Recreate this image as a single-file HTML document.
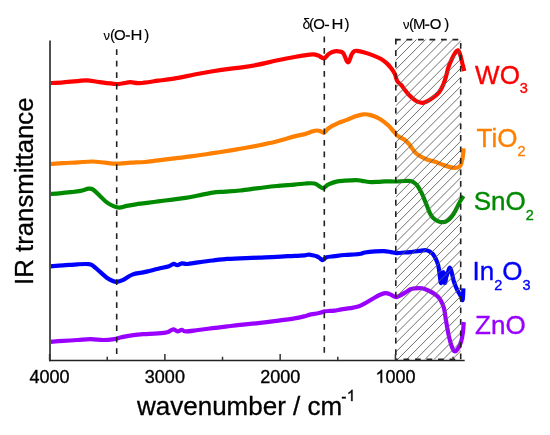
<!DOCTYPE html>
<html><head><meta charset="utf-8"><style>
html,body{margin:0;padding:0;background:#fff;width:550px;height:435px;overflow:hidden}
svg{display:block;will-change:transform}
text{font-family:"Liberation Sans",sans-serif;}
</style></head><body>
<svg width="550" height="435" viewBox="0 0 550 435">
<defs><clipPath id="bx"><rect x="395.80" y="39.60" width="64.90" height="319.70"/></clipPath></defs>
<rect width="550" height="435" fill="#fff"/>
<clipPath id="cv"><rect x="50.6" y="0" width="450" height="435"/></clipPath>
<g clip-path="url(#cv)">
<path d="M50.00,83.10 C52.20,82.97 58.58,82.63 63.20,82.30 C67.82,81.97 73.77,81.43 77.70,81.10 C81.63,80.77 83.17,80.13 86.80,80.30 C90.43,80.47 94.65,81.48 99.50,82.10 C104.35,82.72 112.15,83.77 115.90,84.00 C119.65,84.23 119.57,83.80 122.00,83.50 C124.43,83.20 127.58,82.27 130.50,82.20 C133.42,82.13 134.88,83.35 139.50,83.10 C144.12,82.85 152.05,81.53 158.20,80.70 C164.35,79.87 170.35,79.13 176.40,78.10 C182.45,77.07 188.45,75.63 194.50,74.50 C200.55,73.37 206.63,72.28 212.70,71.30 C218.77,70.32 226.35,69.22 230.90,68.60 C235.45,67.98 235.45,68.27 240.00,67.60 C244.55,66.93 252.13,65.78 258.20,64.60 C264.27,63.42 270.35,61.77 276.40,60.50 C282.45,59.23 288.45,58.02 294.50,57.00 C300.55,55.98 308.75,54.63 312.70,54.40 C316.65,54.17 316.32,54.95 318.20,55.60 C320.08,56.25 322.25,58.57 324.00,58.30 C325.75,58.03 326.95,55.15 328.70,54.00 C330.45,52.85 332.55,51.80 334.50,51.40 C336.45,51.00 338.95,51.30 340.40,51.60 C341.85,51.90 342.38,52.20 343.20,53.20 C344.02,54.20 344.67,56.23 345.30,57.60 C345.93,58.97 346.47,60.63 347.00,61.40 C347.53,62.17 348.00,62.60 348.50,62.20 C349.00,61.80 349.48,60.27 350.00,59.00 C350.52,57.73 350.90,55.90 351.60,54.60 C352.30,53.30 353.30,51.83 354.20,51.20 C355.10,50.57 355.43,50.63 357.00,50.80 C358.57,50.97 361.03,51.48 363.60,52.20 C366.17,52.92 369.48,53.97 372.40,55.10 C375.32,56.23 378.68,57.62 381.10,59.00 C383.52,60.38 385.25,61.90 386.90,63.40 C388.55,64.90 389.68,66.27 391.00,68.00 C392.32,69.73 393.77,71.63 394.80,73.80 C395.83,75.97 396.12,79.12 397.20,81.00 C398.28,82.88 400.08,83.68 401.30,85.10 C402.52,86.52 403.17,87.80 404.50,89.50 C405.83,91.20 407.42,93.42 409.30,95.30 C411.18,97.18 413.65,99.55 415.80,100.80 C417.95,102.05 420.50,102.63 422.20,102.80 C423.90,102.97 424.38,102.53 426.00,101.80 C427.62,101.07 429.77,99.93 431.90,98.40 C434.03,96.87 436.92,94.85 438.80,92.60 C440.68,90.35 442.00,87.60 443.20,84.90 C444.40,82.20 445.13,79.33 446.00,76.40 C446.87,73.47 447.42,70.23 448.40,67.30 C449.38,64.37 450.75,61.25 451.90,58.80 C453.05,56.35 454.30,54.02 455.30,52.60 C456.30,51.18 457.08,49.95 457.90,50.30 C458.72,50.65 459.48,52.60 460.20,54.70 C460.92,56.80 461.52,60.18 462.20,62.90 C462.88,65.62 463.95,69.65 464.30,71.00" fill="none" stroke="#ff0000" stroke-width="4.2" stroke-linejoin="round" stroke-linecap="butt"/>
<path d="M50.00,164.00 C52.20,163.85 58.58,163.37 63.20,163.10 C67.82,162.83 72.85,162.67 77.70,162.40 C82.55,162.13 87.75,161.45 92.30,161.50 C96.85,161.55 101.07,162.35 105.00,162.70 C108.93,163.05 111.65,163.60 115.90,163.60 C120.15,163.60 125.65,162.97 130.50,162.70 C135.35,162.43 140.38,162.40 145.00,162.00 C149.62,161.60 152.97,160.93 158.20,160.30 C163.43,159.67 170.35,158.93 176.40,158.20 C182.45,157.47 188.45,156.73 194.50,155.90 C200.55,155.07 206.63,154.12 212.70,153.20 C218.77,152.28 226.35,151.13 230.90,150.40 C235.45,149.67 235.45,149.62 240.00,148.80 C244.55,147.98 252.13,146.72 258.20,145.50 C264.27,144.28 270.35,143.02 276.40,141.50 C282.45,139.98 289.65,137.67 294.50,136.40 C299.35,135.13 302.58,134.70 305.50,133.90 C308.42,133.10 310.08,132.17 312.00,131.60 C313.92,131.03 315.58,130.55 317.00,130.50 C318.42,130.45 319.37,130.92 320.50,131.30 C321.63,131.68 322.88,132.85 323.80,132.80 C324.72,132.75 325.22,131.75 326.00,131.00 C326.78,130.25 327.08,129.32 328.50,128.30 C329.92,127.28 332.58,125.90 334.50,124.90 C336.42,123.90 337.83,123.18 340.00,122.30 C342.17,121.42 344.80,120.63 347.50,119.60 C350.20,118.57 353.53,116.98 356.20,116.10 C358.87,115.22 361.08,114.47 363.50,114.30 C365.92,114.13 368.03,114.37 370.70,115.10 C373.37,115.83 376.58,117.00 379.50,118.70 C382.42,120.40 385.78,123.10 388.20,125.30 C390.62,127.50 392.30,130.05 394.00,131.90 C395.70,133.75 396.70,135.13 398.40,136.40 C400.10,137.67 402.43,138.23 404.20,139.50 C405.97,140.77 407.87,142.77 409.00,144.00 C410.13,145.23 409.97,145.50 411.00,146.90 C412.03,148.30 413.58,150.80 415.20,152.40 C416.82,154.00 418.63,155.28 420.70,156.50 C422.77,157.72 425.08,158.78 427.60,159.70 C430.12,160.62 433.05,161.08 435.80,162.00 C438.55,162.92 441.33,164.27 444.10,165.20 C446.87,166.13 450.15,167.20 452.40,167.60 C454.65,168.00 456.23,167.98 457.60,167.60 C458.97,167.22 459.80,166.73 460.60,165.30 C461.40,163.87 461.95,161.13 462.40,159.00 C462.85,156.87 463.10,154.28 463.30,152.50 C463.50,150.72 463.55,149.00 463.60,148.30" fill="none" stroke="#ff8000" stroke-width="4.2" stroke-linejoin="round" stroke-linecap="butt"/>
<path d="M50.00,194.00 C51.58,193.88 56.08,193.60 59.50,193.30 C62.92,193.00 67.00,192.60 70.50,192.20 C74.00,191.80 77.48,191.48 80.50,190.90 C83.52,190.32 86.48,188.92 88.60,188.70 C90.72,188.48 91.38,188.47 93.20,189.60 C95.02,190.73 97.23,193.37 99.50,195.50 C101.77,197.63 104.37,200.58 106.80,202.40 C109.23,204.22 111.98,205.53 114.10,206.40 C116.22,207.27 117.38,207.68 119.50,207.60 C121.62,207.52 124.07,206.45 126.80,205.90 C129.53,205.35 132.87,204.75 135.90,204.30 C138.93,203.85 141.28,203.68 145.00,203.20 C148.72,202.72 153.58,202.00 158.20,201.40 C162.82,200.80 168.15,200.18 172.70,199.60 C177.25,199.02 181.25,198.58 185.50,197.90 C189.75,197.22 193.67,196.38 198.20,195.50 C202.73,194.62 208.15,193.23 212.70,192.60 C217.25,191.97 220.95,192.05 225.50,191.70 C230.05,191.35 234.55,191.08 240.00,190.50 C245.45,189.92 252.13,188.95 258.20,188.20 C264.27,187.45 270.35,186.60 276.40,186.00 C282.45,185.40 289.65,185.02 294.50,184.60 C299.35,184.18 302.17,183.68 305.50,183.50 C308.83,183.32 312.17,183.03 314.50,183.50 C316.83,183.97 318.05,185.50 319.50,186.30 C320.95,187.10 322.20,188.25 323.20,188.30 C324.20,188.35 324.52,187.28 325.50,186.60 C326.48,185.92 327.28,185.03 329.10,184.20 C330.92,183.37 333.83,182.18 336.40,181.60 C338.97,181.02 341.20,180.95 344.50,180.70 C347.80,180.45 353.28,180.08 356.20,180.10 C359.12,180.12 359.82,180.48 362.00,180.80 C364.18,181.12 366.63,181.82 369.30,182.00 C371.97,182.18 375.33,182.00 378.00,181.90 C380.67,181.80 382.38,181.47 385.30,181.40 C388.22,181.33 392.22,181.57 395.50,181.50 C398.78,181.43 402.33,181.03 405.00,181.00 C407.67,180.97 409.58,180.70 411.50,181.30 C413.42,181.90 415.10,183.18 416.50,184.60 C417.90,186.02 418.85,187.98 419.90,189.80 C420.95,191.62 421.93,193.58 422.80,195.50 C423.67,197.42 424.33,199.38 425.10,201.30 C425.87,203.22 426.63,205.08 427.40,207.00 C428.17,208.92 428.83,211.07 429.70,212.80 C430.57,214.53 431.35,216.07 432.60,217.40 C433.85,218.73 435.42,220.00 437.20,220.80 C438.98,221.60 441.52,222.30 443.30,222.20 C445.08,222.10 446.52,221.13 447.90,220.20 C449.28,219.27 450.38,218.12 451.60,216.60 C452.82,215.08 454.13,212.93 455.20,211.10 C456.27,209.27 457.08,207.40 458.00,205.60 C458.92,203.80 459.78,201.90 460.70,200.30 C461.62,198.70 463.03,196.72 463.50,196.00" fill="none" stroke="#008a00" stroke-width="4.2" stroke-linejoin="round" stroke-linecap="butt"/>
<path d="M50.00,266.30 C52.20,266.15 58.58,265.73 63.20,265.40 C67.82,265.07 73.47,264.52 77.70,264.30 C81.93,264.08 86.02,263.83 88.60,264.10 C91.18,264.37 91.38,264.68 93.20,265.90 C95.02,267.12 97.23,269.43 99.50,271.40 C101.77,273.37 104.67,276.13 106.80,277.70 C108.93,279.27 110.63,280.10 112.30,280.80 C113.97,281.50 114.98,282.05 116.80,281.90 C118.62,281.75 120.62,281.12 123.20,279.90 C125.78,278.68 128.97,275.85 132.30,274.60 C135.63,273.35 140.40,273.00 143.20,272.40 C146.00,271.80 146.60,271.62 149.10,271.00 C151.60,270.38 154.87,269.50 158.20,268.70 C161.53,267.90 166.53,267.02 169.10,266.20 C171.67,265.38 172.23,263.97 173.60,263.80 C174.97,263.63 175.93,265.27 177.30,265.20 C178.67,265.13 180.13,263.60 181.80,263.40 C183.47,263.20 184.57,264.17 187.30,264.00 C190.03,263.83 193.97,262.98 198.20,262.40 C202.43,261.82 207.85,261.08 212.70,260.50 C217.55,259.92 222.75,259.25 227.30,258.90 C231.85,258.55 234.85,258.62 240.00,258.40 C245.15,258.18 252.13,257.85 258.20,257.60 C264.27,257.35 270.35,257.20 276.40,256.90 C282.45,256.60 289.73,256.07 294.50,255.80 C299.27,255.53 302.57,255.50 305.00,255.30 C307.43,255.10 307.85,254.60 309.10,254.60 C310.35,254.60 311.27,255.03 312.50,255.30 C313.73,255.57 315.33,255.77 316.50,256.20 C317.67,256.63 318.50,257.25 319.50,257.90 C320.50,258.55 321.65,259.95 322.50,260.10 C323.35,260.25 323.92,259.28 324.60,258.80 C325.28,258.32 324.95,257.63 326.60,257.20 C328.25,256.77 331.52,256.57 334.50,256.20 C337.48,255.83 340.40,255.37 344.50,255.00 C348.60,254.63 355.70,254.42 359.10,254.00 C362.50,253.58 362.23,252.93 364.90,252.50 C367.57,252.07 371.95,251.63 375.10,251.40 C378.25,251.17 381.13,250.98 383.80,251.10 C386.47,251.22 388.92,251.77 391.10,252.10 C393.28,252.43 394.72,253.03 396.90,253.10 C399.08,253.17 402.02,252.67 404.20,252.50 C406.38,252.33 407.48,252.38 410.00,252.10 C412.52,251.82 416.53,251.10 419.30,250.80 C422.07,250.50 424.58,249.98 426.60,250.30 C428.62,250.62 430.07,251.63 431.40,252.70 C432.73,253.77 433.62,255.08 434.60,256.70 C435.58,258.32 436.58,260.38 437.30,262.40 C438.02,264.42 438.47,266.40 438.90,268.80 C439.33,271.20 439.55,274.43 439.90,276.80 C440.25,279.17 440.58,283.47 441.00,283.00 C441.42,282.53 441.97,275.67 442.40,274.00 C442.83,272.33 443.20,271.50 443.60,273.00 C444.00,274.50 444.35,282.33 444.80,283.00 C445.25,283.67 445.72,278.97 446.30,277.00 C446.88,275.03 447.72,272.77 448.30,271.20 C448.88,269.63 449.27,267.55 449.80,267.60 C450.33,267.65 450.82,269.15 451.50,271.50 C452.18,273.85 452.97,278.67 453.90,281.70 C454.83,284.73 456.03,287.43 457.10,289.70 C458.17,291.97 459.38,293.58 460.30,295.30 C461.22,297.02 462.08,301.17 462.60,300.00 C463.12,298.83 463.27,290.25 463.40,288.30" fill="none" stroke="#0000ff" stroke-width="4.2" stroke-linejoin="round" stroke-linecap="butt"/>
<path d="M50.00,341.80 C52.20,341.65 58.58,341.20 63.20,340.90 C67.82,340.60 73.15,340.30 77.70,340.00 C82.25,339.70 86.25,339.10 90.50,339.10 C94.75,339.10 99.27,340.00 103.20,340.00 C107.13,340.00 111.07,339.55 114.10,339.10 C117.13,338.65 118.98,337.85 121.40,337.30 C123.82,336.75 124.97,336.32 128.60,335.80 C132.23,335.28 138.88,334.57 143.20,334.20 C147.52,333.83 150.78,333.87 154.50,333.60 C158.22,333.33 163.07,332.95 165.50,332.60 C167.93,332.25 167.80,332.03 169.10,331.50 C170.40,330.97 171.90,329.43 173.30,329.40 C174.70,329.37 176.08,331.23 177.50,331.30 C178.92,331.37 180.47,329.78 181.80,329.80 C183.13,329.82 182.77,331.37 185.50,331.40 C188.23,331.43 193.67,330.53 198.20,330.00 C202.73,329.47 207.85,328.80 212.70,328.20 C217.55,327.60 222.75,326.95 227.30,326.40 C231.85,325.85 234.85,325.45 240.00,324.90 C245.15,324.35 252.13,323.77 258.20,323.10 C264.27,322.43 270.35,321.68 276.40,320.90 C282.45,320.12 289.65,319.22 294.50,318.40 C299.35,317.58 303.07,316.58 305.50,316.00 C307.93,315.42 307.28,315.32 309.10,314.90 C310.92,314.48 314.58,313.85 316.40,313.50 C318.22,313.15 318.57,313.17 320.00,312.80 C321.43,312.43 323.33,311.62 325.00,311.30 C326.67,310.98 328.42,311.02 330.00,310.90 C331.58,310.78 332.57,310.85 334.50,310.60 C336.43,310.35 338.95,309.82 341.60,309.40 C344.25,308.98 347.48,308.63 350.40,308.10 C353.32,307.57 356.43,307.13 359.10,306.20 C361.77,305.27 363.98,303.83 366.40,302.50 C368.82,301.17 371.42,299.45 373.60,298.20 C375.78,296.95 377.55,295.85 379.50,295.00 C381.45,294.15 383.62,293.25 385.30,293.10 C386.98,292.95 388.15,293.57 389.60,294.10 C391.05,294.63 392.90,295.78 394.00,296.30 C395.10,296.82 395.23,297.30 396.20,297.20 C397.17,297.10 398.23,296.50 399.80,295.70 C401.37,294.90 403.90,293.43 405.60,292.40 C407.30,291.37 408.48,290.18 410.00,289.50 C411.52,288.82 412.70,288.50 414.70,288.30 C416.70,288.10 419.55,287.85 422.00,288.30 C424.45,288.75 426.93,289.78 429.40,291.00 C431.87,292.22 434.95,294.10 436.80,295.60 C438.65,297.10 439.30,297.88 440.50,300.00 C441.70,302.12 443.08,304.85 444.00,308.30 C444.92,311.75 445.20,316.10 446.00,320.70 C446.80,325.30 447.87,331.68 448.80,335.90 C449.73,340.12 450.68,343.45 451.60,346.00 C452.52,348.55 453.27,350.70 454.30,351.20 C455.33,351.70 456.65,350.63 457.80,349.00 C458.95,347.37 460.33,344.28 461.20,341.40 C462.07,338.52 462.58,334.93 463.00,331.70 C463.42,328.47 463.58,323.62 463.70,322.00" fill="none" stroke="#9900ff" stroke-width="4.2" stroke-linejoin="round" stroke-linecap="butt"/>
</g>
<g clip-path="url(#bx)" stroke="#606060" stroke-width="0.9" fill="none"><path d="M67.34,361.30 L391.04,37.60 M76.46,361.30 L400.16,37.60 M85.58,361.30 L409.28,37.60 M94.70,361.30 L418.40,37.60 M103.82,361.30 L427.52,37.60 M112.94,361.30 L436.64,37.60 M122.06,361.30 L445.76,37.60 M131.18,361.30 L454.88,37.60 M140.30,361.30 L464.00,37.60 M149.42,361.30 L473.12,37.60 M158.54,361.30 L482.24,37.60 M167.66,361.30 L491.36,37.60 M176.78,361.30 L500.48,37.60 M185.90,361.30 L509.60,37.60 M195.02,361.30 L518.72,37.60 M204.14,361.30 L527.84,37.60 M213.26,361.30 L536.96,37.60 M222.38,361.30 L546.08,37.60 M231.50,361.30 L555.20,37.60 M240.62,361.30 L564.32,37.60 M249.74,361.30 L573.44,37.60 M258.86,361.30 L582.56,37.60 M267.98,361.30 L591.68,37.60 M277.10,361.30 L600.80,37.60 M286.22,361.30 L609.92,37.60 M295.34,361.30 L619.04,37.60 M304.46,361.30 L628.16,37.60 M313.58,361.30 L637.28,37.60 M322.70,361.30 L646.40,37.60 M331.82,361.30 L655.52,37.60 M340.94,361.30 L664.64,37.60 M350.06,361.30 L673.76,37.60 M359.18,361.30 L682.88,37.60 M368.30,361.30 L692.00,37.60 M377.42,361.30 L701.12,37.60 M386.54,361.30 L710.24,37.60 M395.66,361.30 L719.36,37.60 M404.78,361.30 L728.48,37.60 M413.90,361.30 L737.60,37.60 M423.02,361.30 L746.72,37.60 M432.14,361.30 L755.84,37.60 M441.26,361.30 L764.96,37.60 M450.38,361.30 L774.08,37.60 M459.50,361.30 L783.20,37.60"/></g>
<g stroke="#222" stroke-width="1.6" stroke-dasharray="5.75 5.75" fill="none">
<line x1="395.00" y1="39.60" x2="460.70" y2="39.60" stroke-dashoffset="0.00"/>
<line x1="395.80" y1="38.80" x2="395.80" y2="360.10" stroke-dashoffset="0.00"/>
<line x1="460.70" y1="39.60" x2="460.70" y2="359.30" stroke-dashoffset="8.15"/>
<line x1="395.80" y1="359.30" x2="460.70" y2="359.30" stroke-dashoffset="3.80"/>
</g>
<line x1="116.7" y1="49.2" x2="116.7" y2="354.5" stroke="#222" stroke-width="1.6" stroke-dasharray="5.75 5.75"/>
<line x1="324.3" y1="36.6" x2="324.3" y2="353.5" stroke="#222" stroke-width="1.6" stroke-dasharray="5.75 5.75"/>
<path d="M50,40.4 V361.2" fill="none" stroke="#505050" stroke-width="2"/>
<path d="M49,360.5 H464.7" fill="none" stroke="#222" stroke-width="1.5"/>
<path d="M49.60,360.5 V354 M164.88,360.5 V354 M280.16,360.5 V354 M395.44,360.5 V354 M107.24,360.5 V356.8 M222.52,360.5 V356.8 M337.80,360.5 V356.8 M453.08,360.5 V356.8" stroke="#333" stroke-width="1.5" fill="none"/>
<text x="49.60" y="382.8" font-size="18" text-anchor="middle" stroke="#000" stroke-width="0.35" font-family="Liberation Sans, sans-serif">4000</text>
<text x="164.88" y="382.8" font-size="18" text-anchor="middle" stroke="#000" stroke-width="0.35" font-family="Liberation Sans, sans-serif">3000</text>
<text x="280.16" y="382.8" font-size="18" text-anchor="middle" stroke="#000" stroke-width="0.35" font-family="Liberation Sans, sans-serif">2000</text>
<path d="M763,0 L583,0 L583,1147 Q518,1085 413,1023 Q307,961 223,930 L223,1104 Q374,1175 487,1276 Q600,1377 647,1472 L763,1472 Z" transform="translate(375.42,382.80) scale(0.00879,-0.00879)" fill="#000" stroke="#000" stroke-width="39.8"/>
<text x="385.43" y="382.8" font-size="18" stroke="#000" stroke-width="0.35" font-family="Liberation Sans, sans-serif">000</text>
<text x="137" y="415.3" font-size="26" stroke="#000" stroke-width="0.3" font-family="Liberation Sans, sans-serif">wavenumber / cm<tspan x="341.3" y="401.6" font-size="15.7">-</tspan></text>
<path d="M763,0 L583,0 L583,1147 Q518,1085 413,1023 Q307,961 223,930 L223,1104 Q374,1175 487,1276 Q600,1377 647,1472 L763,1472 Z" transform="translate(346.70,401.10) scale(0.00767,-0.00767)" fill="#000" stroke="#000" stroke-width="39.1"/>
<text transform="translate(33.0,284.9) rotate(-90)" font-size="25.75" stroke="#000" stroke-width="0.3" font-family="Liberation Sans, sans-serif">IR transmittance</text>
<text x="103.40" y="39.5" font-size="13.0" stroke="#000" stroke-width="0.1" font-family="Liberation Sans, sans-serif">&#957;</text>
<rect x="125.60" y="35.24" width="4.3" height="1.45" fill="#000"/><text transform="translate(136.50,39.50) scale(1.1,1)" x="-5.42" y="0" font-size="15.0" stroke="#000" stroke-width="0.15" font-family="Liberation Sans, sans-serif">H</text><text transform="translate(107.90,39.50) scale(1.000,1)" x="2.08 6.02 36.42" y="0" font-size="15.0" stroke="#000" stroke-width="0.15" font-family="Liberation Sans, sans-serif">(O)</text>
<text x="302.40" y="29.0" font-size="14.0" stroke="#000" stroke-width="0.1" font-family="Liberation Sans, sans-serif">&#948;</text>
<rect x="324.75" y="24.74" width="4.3" height="1.45" fill="#000"/><text transform="translate(337.40,29.00) scale(1.1,1)" x="-5.42" y="0" font-size="15.0" stroke="#000" stroke-width="0.15" font-family="Liberation Sans, sans-serif">H</text><text transform="translate(306.80,29.00) scale(1.000,1)" x="2.08 6.47 37.67" y="0" font-size="15.0" stroke="#000" stroke-width="0.15" font-family="Liberation Sans, sans-serif">(O)</text>
<text x="402.90" y="28.7" font-size="13.0" stroke="#000" stroke-width="0.1" font-family="Liberation Sans, sans-serif">&#957;</text>
<rect x="425.10" y="24.44" width="4.3" height="1.45" fill="#000"/><text transform="translate(406.80,28.70) scale(1.000,1)" x="2.08 6.25 22.87 37.47" y="0" font-size="15.0" stroke="#000" stroke-width="0.15" font-family="Liberation Sans, sans-serif">(MO)</text>
<text x="475.1" y="83.8" font-size="26" fill="#ff0000" stroke="#ff0000" stroke-width="0.35" font-family="Liberation Sans, sans-serif"><tspan dy="0.0">WO</tspan><tspan font-size="14.5" dy="9.4">3</tspan></text>
<text x="476.5" y="146.8" font-size="26" fill="#ff8000" stroke="#ff8000" stroke-width="0.35" font-family="Liberation Sans, sans-serif"><tspan dy="0.0">TiO</tspan><tspan font-size="14.5" dy="9.4">2</tspan></text>
<text x="473.7" y="210.3" font-size="26" fill="#008a00" stroke="#008a00" stroke-width="0.35" font-family="Liberation Sans, sans-serif"><tspan dy="0.0">SnO</tspan><tspan font-size="14.5" dy="9.4">2</tspan></text>
<text x="472.5" y="280.3" font-size="26" fill="#0000ff" stroke="#0000ff" stroke-width="0.35" font-family="Liberation Sans, sans-serif"><tspan dy="0.0">In</tspan><tspan font-size="14.5" dy="9.4">2</tspan><tspan dy="-9.4">O</tspan><tspan font-size="14.5" dy="9.4">3</tspan></text>
<text x="475.1" y="334.2" font-size="26" fill="#9900ff" stroke="#9900ff" stroke-width="0.35" font-family="Liberation Sans, sans-serif"><tspan dy="0.0">ZnO</tspan></text>
</svg>
</body></html>
